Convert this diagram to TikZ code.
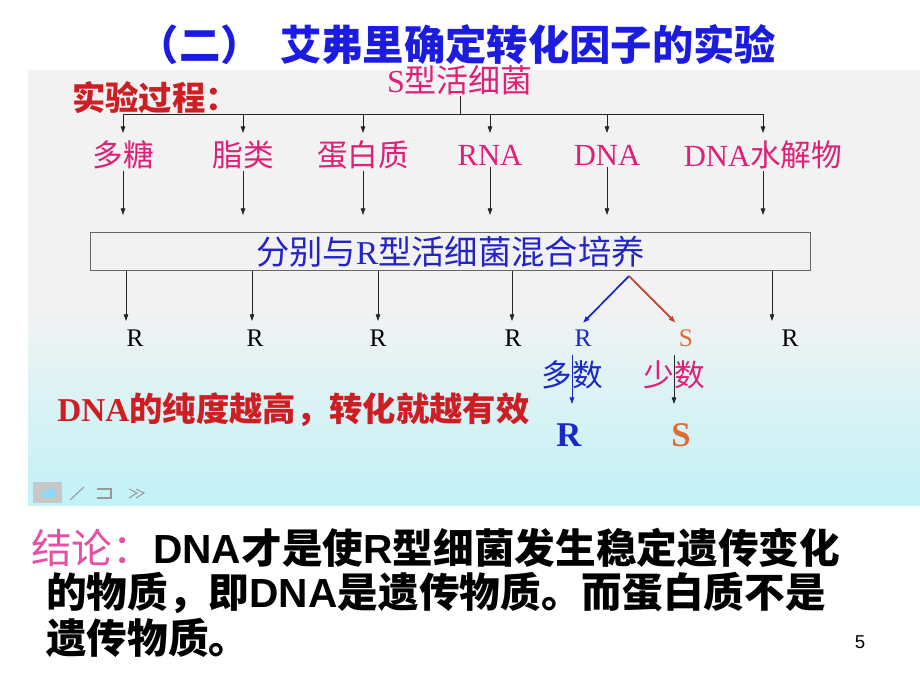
\documentclass[tikz,border=0pt]{standalone}
\usepackage{fontspec}
\setmainfont{Liberation Serif}
\newfontfamily\cjk{Noto Sans CJK SC}
\newfontfamily\arialfont{Liberation Sans}
\usepackage{xcolor}
\usetikzlibrary{arrows.meta,positioning,calc}

\definecolor{titleblue}{RGB}{28,28,225}
\definecolor{bacpink}{RGB}{222,32,120}
\definecolor{procred}{RGB}{205,30,35}
\definecolor{boxblue}{RGB}{35,35,200}
\definecolor{splitblue}{RGB}{25,40,200}
\definecolor{splitred}{RGB}{195,65,45}
\definecolor{sorange}{RGB}{225,105,55}
\definecolor{concpink}{RGB}{228,80,165}
\definecolor{panelgrey}{RGB}{242,242,242}
\definecolor{panelcyan}{RGB}{194,242,247}

\newcommand{\lat}[1]{{\rmfamily #1}}
\newcommand{\arb}[1]{{\arialfont\bfseries #1}}

\begin{document}
\begin{tikzpicture}[
    x=0.75pt, y=-0.75pt,
    arrow/.style={-{Triangle[length=5pt,width=3.4pt]}, line width=0.6pt, black!85},
    part/.style={font=\cjk\fontsize{23}{23}\selectfont, text=bacpink, inner sep=1pt},
    res/.style={font=\fontsize{19}{19}\selectfont, inner sep=1pt},
    big/.style={font=\fontsize{26}{26}\selectfont\bfseries, inner sep=1pt},
    conc/.style={anchor=west, inner sep=0pt, font=\cjk\fontsize{30.5}{30.5}\selectfont\bfseries}
]
\useasboundingbox (0,0) rectangle (920,690);

% Background panel
\fill[panelgrey] (28,70) rectangle (920,305);
\shade[top color=panelgrey, bottom color=panelcyan] (28,305) rectangle (920,505);

% Title
\node[font=\cjk\fontsize{31}{31}\selectfont\bfseries, text=titleblue] (title) at (457,45) {（二）\hspace{14pt}艾弗里确定转化因子的实验};

\node[anchor=west, font=\cjk\fontsize{25}{25}\selectfont\bfseries, text=procred, inner sep=0pt] (proc) at (72,98) {实验过程：};
\node[font=\cjk\fontsize{24}{24}\selectfont, text=bacpink, inner sep=1pt] (sbac) at (460,80) {\lat{S}型活细菌};

% Extracted parts
\node[part] (ps) at (123,155) {多糖};
\node[part] (lip) at (243,155) {脂类};
\node[part] (prot) at (363,155) {蛋白质};
\node[part] (rna) at (490,155) {\lat{RNA}};
\node[part] (dna) at (607,155) {\lat{DNA}};
\node[part] (hyd) at (763,155) {\lat{DNA}水解物};

% Mixing box
\node[draw=black!60, line width=0.6pt, minimum width=540pt, minimum height=29pt, inner sep=0pt,
      font=\cjk\fontsize{25}{25}\selectfont, text=boxblue] (mix) at (450.5,251.5) {分别与\lat{R}型活细菌混合培养};

% Row levels
\coordinate (bar) at (460,114);
\coordinate (tipA) at (0,133);
\coordinate (tipB) at (0,215);
\coordinate (tipC) at (0,321);
\coordinate (topD) at (0,355);
\coordinate (tipD) at (0,404);

\draw[black!85, line width=0.6pt] (sbac) -- (bar);
\draw[black!85, line width=0.6pt] (ps |- bar) -- (hyd |- bar);
\foreach \n in {ps,lip,prot,rna,dna,hyd}{
  \draw[arrow] (\n |- bar) -- (\n |- tipA);
  \draw[arrow] (\n.south) -- (\n |- tipB);
}

% Results
\node[res] (r1) at (135,338) {R};
\node[res] (r2) at (255,338) {R};
\node[res] (r3) at (378,338) {R};
\node[res] (r4) at (513,338) {R};
\node[res, text=splitblue] (r5) at (583,338) {R};
\node[res, text=sorange] (s5) at (686,338) {S};
\node[res] (r6) at (790,338) {R};

\foreach \x in {126,252,378,512,772}
  \draw[arrow] (\x,0 |- mix.south) -- (\x,0 |- tipC);

\coordinate (split) at (629,276);
\draw[arrow, splitblue, line width=1.3pt] (split) -- ([yshift=4pt]r5.north);
\draw[arrow, splitred, line width=1.3pt] (split) -- ([xshift=-8pt,yshift=4pt]s5.north);

\node[font=\cjk\fontsize{23}{23}\selectfont, text=splitblue, inner sep=1pt] (many) at (572,375) {多数};
\node[font=\cjk\fontsize{23}{23}\selectfont, text=bacpink, inner sep=1pt] (few) at (674,375) {少数};
\node[big, text=splitblue] (bigR) at (569,435) {R};
\node[big, text=sorange] (bigS) at (681,435) {S};
\draw[arrow, splitblue] (many |- topD) -- (many |- tipD);
\draw[arrow] (few |- topD) -- (few |- tipD);

\node[anchor=west, inner sep=0pt, font=\cjk\fontsize{25}{25}\selectfont\bfseries, text=procred] (purity) at (57,410) {\lat{DNA}的纯度越高，转化就越有效};

% Slide controls
\fill[black!22] (33,482) rectangle (62,503);
\fill[cyan!45] (40,494) -- (50,488) -- (55,490) -- (55,497) -- (45,498) -- cycle;
\draw[black!40, line width=0.8pt] (70,500) -- (84,487);
\draw[black!40, line width=0.8pt] (97,489) -- (111,489) -- (111,498) -- (97,498);
\draw[black!40, line width=0.8pt] (129,489) -- (137,493) -- (129,498) (136,489) -- (144,493) -- (136,498);

% Conclusion
\node[conc] (c1) at (31,548) {{\mdseries\color{concpink}结论：}\arb{DNA}才是使\arb{R}型细菌发生稳定遗传变化};
\node[conc] (c2) at (46,593) {的物质，即\arb{DNA}是遗传物质。而蛋白质不是};
\node[conc] (c3) at (46,638) {遗传物质。};

\node[font=\arialfont\fontsize{14}{14}\selectfont] (pnum) at (860,642) {5};
\end{tikzpicture}
\end{document}
